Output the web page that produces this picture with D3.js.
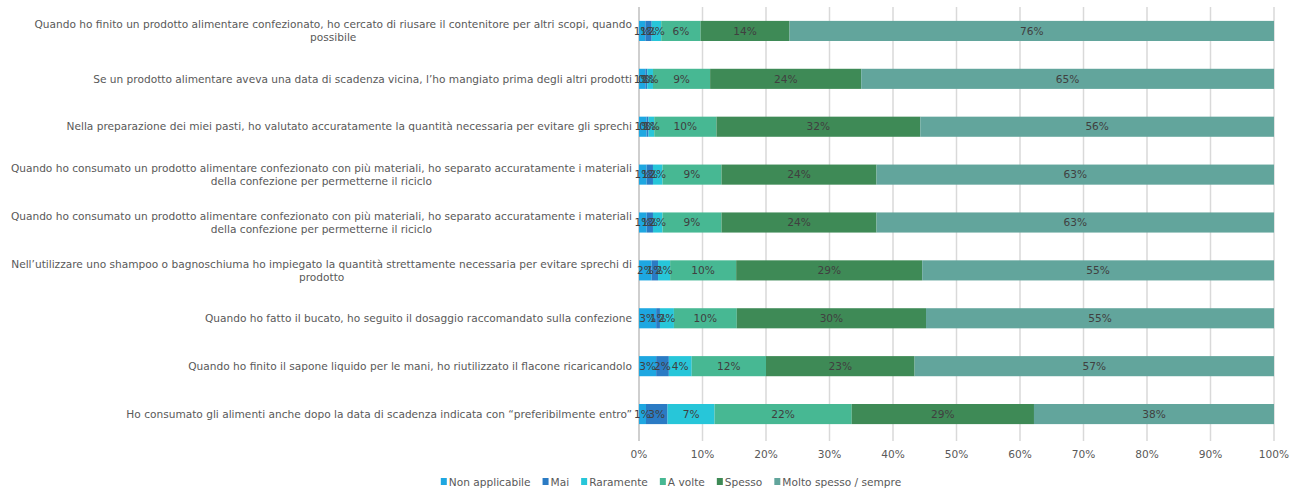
<!DOCTYPE html>
<html>
<head>
<meta charset="utf-8">
<script src="https://cdn.jsdelivr.net/npm/d3@7"></script>
<style>
  body { margin: 0; background: #fff; }
  svg { display: block; font-family: "DejaVu Sans", Verdana, sans-serif; }
</style>
</head>
<body>
<svg id="chart" width="1303" height="493"></svg>
<script>
// Survey statements (top to bottom)
const categories = [
  "Quando ho finito un prodotto alimentare confezionato, ho cercato di riusare il contenitore per altri scopi, quando possibile",
  "Se un prodotto alimentare aveva una data di scadenza vicina, l’ho mangiato prima degli altri prodotti",
  "Nella preparazione dei miei pasti, ho valutato accuratamente la quantità necessaria per evitare gli sprechi",
  "Quando ho consumato un prodotto alimentare confezionato con più materiali, ho separato accuratamente i materiali della confezione per permetterne il riciclo",
  "Quando ho consumato un prodotto alimentare confezionato con più materiali, ho separato accuratamente i materiali della confezione per permetterne il riciclo ",
  "Nell’utilizzare uno shampoo o bagnoschiuma ho impiegato la quantità strettamente necessaria per evitare sprechi di prodotto",
  "Quando ho fatto il bucato, ho seguito il dosaggio raccomandato sulla confezione",
  "Quando ho finito il sapone liquido per le mani, ho riutilizzato il flacone ricaricandolo",
  "Ho consumato gli alimenti anche dopo la data di scadenza indicata con “preferibilmente entro”"
];

const seriesNames = ["Non applicabile", "Mai", "Raramente", "A volte", "Spesso", "Molto spesso / sempre"];

// Share of answers (%) per statement, one array per answer option
const nonApplicabile = [1.0, 1.0, 1.2, 1.2, 1.2, 2.0, 2.7, 2.7, 1.1];
const mai            = [1.0, 0.3, 0.3, 1.0, 1.0, 1.0, 0.6, 2.0, 3.4];
const raramente      = [1.5, 0.9, 0.9, 1.5, 1.5, 1.9, 2.2, 3.6, 7.4];
const aVolte         = [6.2, 9.0, 9.8, 9.3, 9.3, 10.4, 9.9, 11.7, 21.6];
const spesso         = [14.0, 23.8, 32.1, 24.4, 24.4, 29.3, 29.8, 23.4, 28.7];
const moltoSpesso    = [76.3, 65.0, 55.7, 62.6, 62.6, 55.4, 54.8, 56.6, 37.8];

const xTicks = [0, 10, 20, 30, 40, 50, 60, 70, 80, 90, 100];
const tickLabels = xTicks.map(d => d + "%");

const colors = ["#1ea7e1", "#2b7bc4", "#27c6d9", "#47b893", "#3e8a56", "#62a59c"];

const seriesValues = [nonApplicabile, mai, raramente, aVolte, spesso, moltoSpesso];
const table = categories.map((c, i) => {
  const row = { category: c };
  seriesNames.forEach((s, k) => { row[s] = seriesValues[k][i]; });
  return row;
});

const svg = d3.select("#chart");
const margin = { left: 639, right: 29, top: 7, bottom: 55 };
const W = 1303, H = 493;
const FS = 10.6;

const x = d3.scaleLinear().domain([0, 100]).range([margin.left, W - margin.right]);
const y = d3.scaleBand().domain(categories).range([margin.top, H - margin.bottom])
  .paddingInner(0.58).paddingOuter(0.29);

// vertical gridlines
svg.append("g")
  .selectAll("line")
  .data(xTicks)
  .join("line")
  .attr("x1", d => x(d)).attr("x2", d => x(d))
  .attr("y1", margin.top).attr("y2", H - margin.bottom + 3)
  .attr("stroke", d => d === 0 ? "#bfbfbf" : "#d9d9d9")
  .attr("stroke-width", 1.5);

// x tick labels
svg.append("g")
  .selectAll("text")
  .data(xTicks)
  .join("text")
  .attr("x", d => x(d)).attr("y", 458)
  .attr("text-anchor", "middle")
  .attr("fill", "#595959")
  .attr("font-size", FS)
  .text((d, i) => tickLabels[i]);

// stacked bars
const stack = d3.stack().keys(seriesNames);
const stacked = stack(table);

const layers = svg.append("g").selectAll("g")
  .data(stacked)
  .join("g")
  .attr("fill", (d, i) => colors[i]);

layers.selectAll("rect")
  .data(d => d)
  .join("rect")
  .attr("x", d => x(d[0]))
  .attr("width", d => x(d[1]) - x(d[0]))
  .attr("y", d => y(d.data.category))
  .attr("height", y.bandwidth());

// value labels
const fmt = v => Math.round(v) + "%";
const labelLayers = svg.append("g").selectAll("g")
  .data(stacked)
  .join("g");
labelLayers.selectAll("text")
  .data(d => d.map(p => ({ p, key: d.key })))
  .join("text")
  .attr("x", d => (x(d.p[0]) + x(d.p[1])) / 2)
  .attr("y", d => y(d.p.data.category) + y.bandwidth() / 2)
  .attr("dy", "0.35em")
  .attr("text-anchor", "middle")
  .attr("fill", "#404040")
  .attr("font-size", FS)
  .text(d => fmt(d.p.data[d.key]));

// category labels, wrapped
const catG = svg.append("g");
const maxW = 628;
categories.forEach(c => {
  const t = catG.append("text")
    .attr("fill", "#595959")
    .attr("font-size", FS);
  const words = c.trim().split(/\s+/);
  const lines = [];
  let line = [];
  const probe = catG.append("text").attr("font-size", FS);
  words.forEach(w => {
    const test = line.concat(w).join(" ");
    probe.text(test);
    if (probe.node().getComputedTextLength() > maxW && line.length) {
      lines.push(line.join(" "));
      line = [w];
    } else line.push(w);
  });
  lines.push(line.join(" "));
  probe.remove();
  const cy = y(c) + y.bandwidth() / 2;
  const lh = 13;
  const widths = lines.map(l => { t.text(l); return t.node().getComputedTextLength(); });
  t.text(null);
  const blockW = d3.max(widths);
  const cx = 632 - blockW / 2;
  lines.forEach((l, i) => {
    t.append("tspan")
      .attr("x", lines.length > 1 ? cx : 632)
      .attr("text-anchor", lines.length > 1 ? "middle" : "end")
      .attr("y", cy + (i - (lines.length - 1) / 2) * lh)
      .attr("dy", "0.35em")
      .text(l);
  });
});

// legend
const legend = svg.append("g");
const legendItems = legend.selectAll("g").data(seriesNames).join("g");
legendItems.append("rect").attr("width", 6).attr("height", 7).attr("y", -4)
  .attr("fill", (d, i) => colors[i]);
legendItems.append("text").attr("x", 8).attr("dy", "0.35em")
  .attr("fill", "#595959").attr("font-size", FS).text(d => d);
let lx = 0;
legendItems.each(function () {
  d3.select(this).attr("transform", `translate(${lx},0)`);
  lx += this.getBBox().width + 12;
});
const totalW = lx - 12;
legend.attr("transform", `translate(${(436 + 906) / 2 - totalW / 2},482)`);
</script>
</body>
</html>
